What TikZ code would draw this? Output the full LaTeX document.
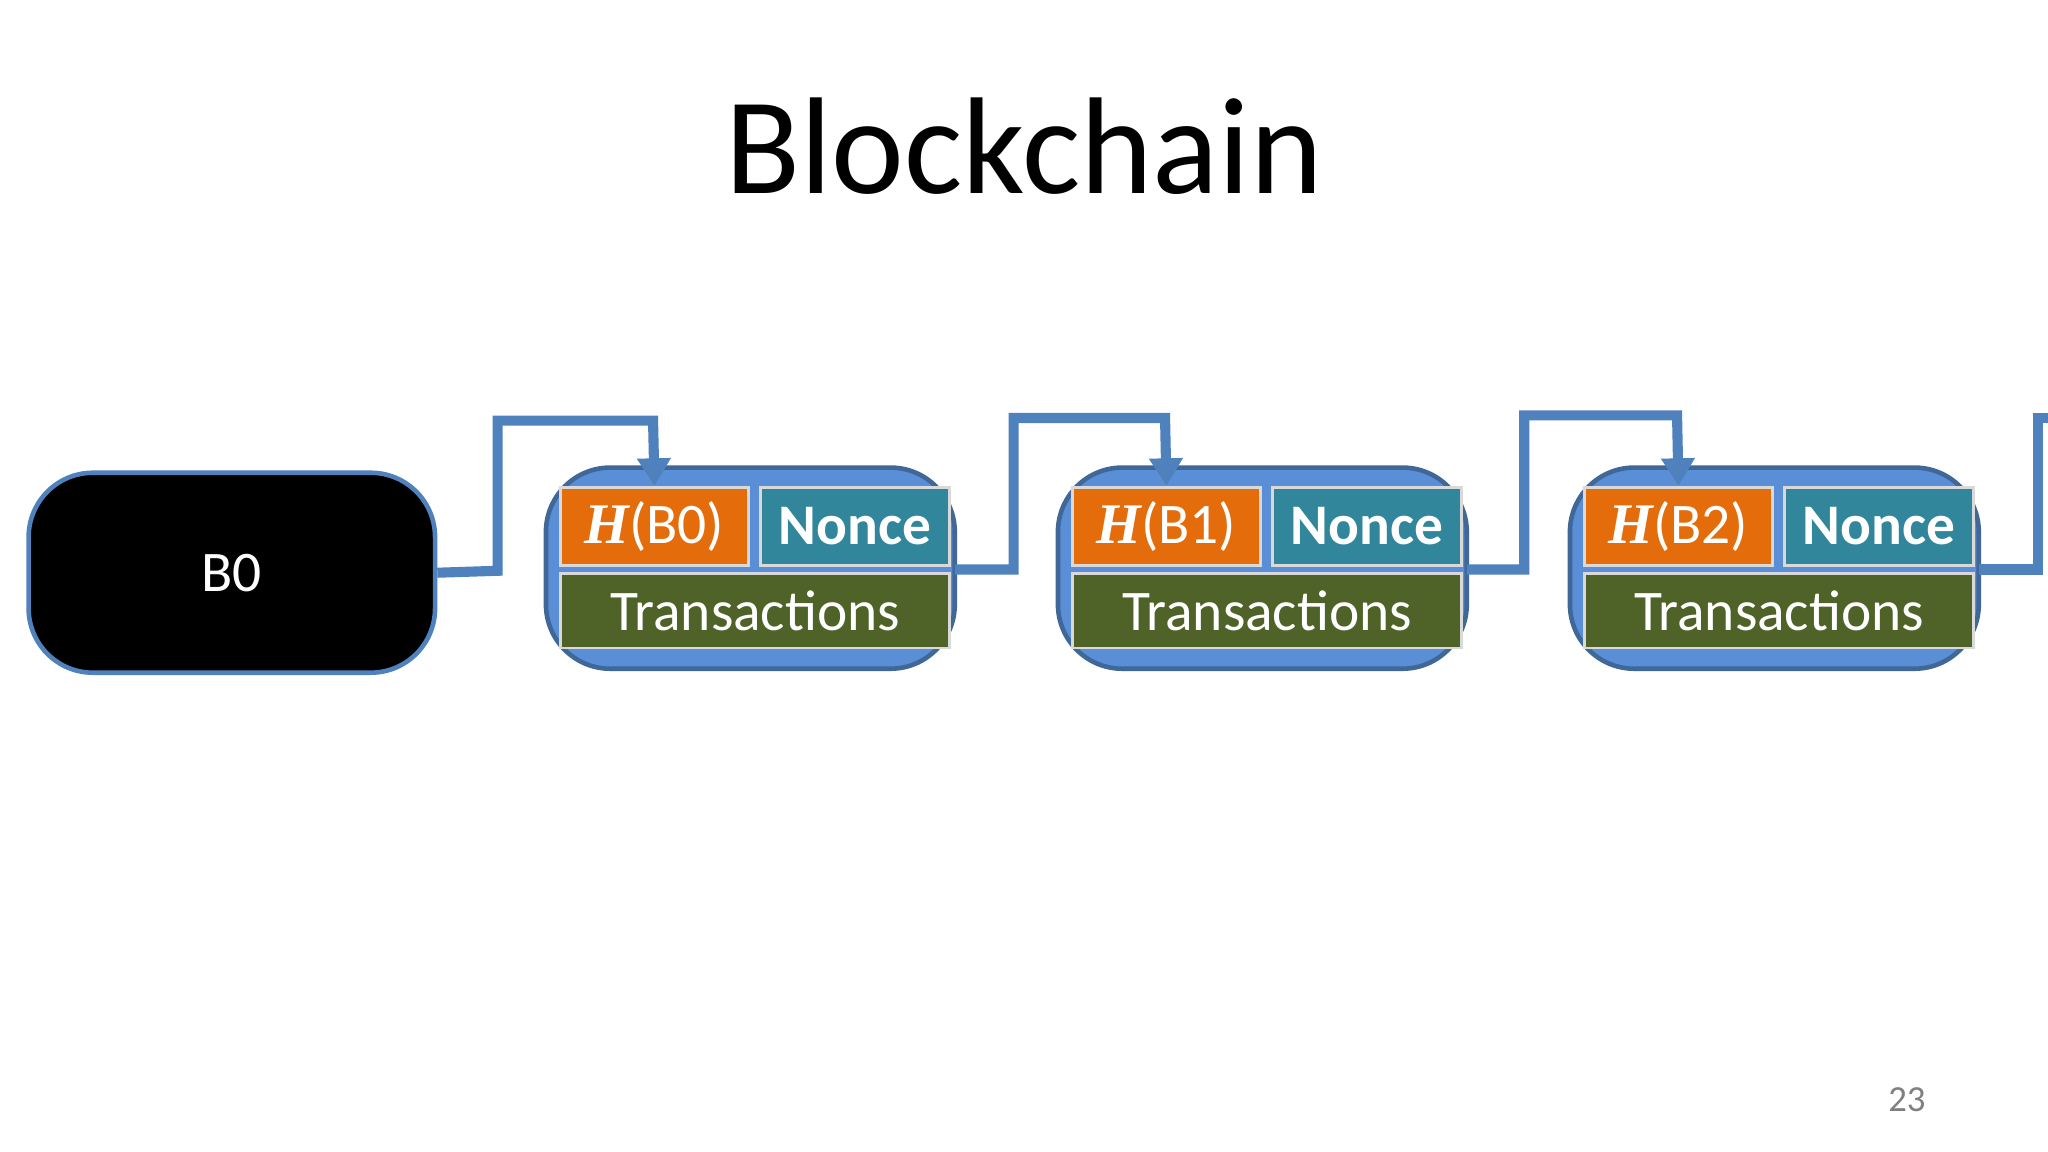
\documentclass[tikz,border=0pt]{standalone}
\usepackage{fontspec}
\setmainfont{Carlito}
\newfontfamily\hfont{Liberation Serif}
\usetikzlibrary{arrows.meta}
\definecolor{borange}{HTML}{E46C0A}
\definecolor{bteal}{HTML}{31869B}
\definecolor{bgreen}{HTML}{4F6228}
\definecolor{bblue}{HTML}{5A8FD8}
\definecolor{bline}{HTML}{4F81BD}
\tikzset{
  cont/.style={draw=bline!80!black, line width=1pt, fill=bblue, rounded corners=14},
  cell/.style={draw=white!70!gray, line width=0.6pt, inner sep=0pt, text=white, font=\fontsize{12.5pt}{14pt}\selectfont},
  link/.style={draw=bline, line width=2.2pt},
  arr/.style={link, -{Triangle[width=7pt,length=6pt]}}
}
\begin{document}
\begin{tikzpicture}[x=0.01cm,y=-0.01cm]
\useasboundingbox[fill=white] (0,0) rectangle (1568,882);
\node (title) at (784,112) {\fontsize{30pt}{34pt}\selectfont Blockchain};
\node[draw=bline, line width=1pt, fill=black, rounded corners=14, minimum width=3.11cm, minimum height=1.53cm, text=white, font=\fontsize{12.5pt}{14pt}\selectfont] (b0) at (177.5,438.5) {B0};
\foreach \i/\x/\p in {1/418/0,2/810/1,3/1202/2}{
  \path[cont] (\x,358) rectangle ++(313,154);
  \node[cell, fill=borange, minimum width=1.44cm, minimum height=0.6cm, anchor=north west] (h\i) at (\x+10,372) {{\hfont\bfseries\itshape H}(B\p)};
  \node[cell, fill=bteal, minimum width=1.45cm, minimum height=0.6cm, anchor=north west, font=\fontsize{12.5pt}{14pt}\selectfont\bfseries] (n\i) at (\x+163,372) {Nonce};
  \node[cell, fill=bgreen, minimum width=2.98cm, minimum height=0.57cm, anchor=north west] (t\i) at (\x+10,438) {Transactions};
  \coordinate (r\i) at (\x+313,436);
}
\draw[arr] (b0.east) -- (381,437) -- (381,322) -- (500,322) -- (h1.north);
\draw[arr] (r1) -- (776,436) -- (776,320) -- (892,320) -- (h2.north);
\draw[arr] (r2) -- (1167,436) -- (1167,318) -- (1284,318) -- (h3.north);
\coordinate (edge) at (1570,320);
\draw[link] (r3) -- (1560,436) -- (1560,320) -- (edge);
\node[text=gray, font=\fontsize{8pt}{10pt}\selectfont] (pg) at (1460,842) {23};
\end{tikzpicture}
\end{document}
